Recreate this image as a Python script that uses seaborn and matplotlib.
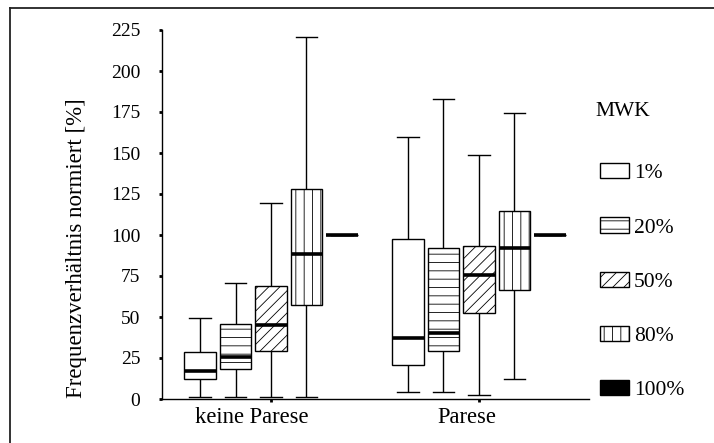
import numpy as np
import pandas as pd
from matplotlib import pyplot as plt
from matplotlib import transforms
from matplotlib.patches import Patch
from matplotlib.lines import Line2D
import seaborn as sns

# Gruppen und MWK-Stufen
gruppen = ['keine Parese', 'Parese']
mwk_stufen = ['1%', '20%', '50%', '80%', '100%']

# Fuenf-Punkte-Zusammenfassung je Box: Minimum, Q1, Median, Q3, Maximum
keine_parese = {
    '1%':   [1.5, 12.5, 17.0, 28.5, 49.5],
    '20%':  [1.0, 18.5, 25.5, 46.0, 70.5],
    '50%':  [1.5, 29.0, 45.0, 69.0, 119.5],
    '80%':  [1.0, 57.5, 88.5, 128.0, 221.0],
    '100%': [100.0, 100.0, 100.0, 100.0, 100.0],
}
parese = {
    '1%':   [4.0, 20.5, 37.5, 97.5, 160.0],
    '20%':  [4.0, 29.0, 40.0, 92.0, 183.0],
    '50%':  [2.5, 52.5, 75.5, 93.0, 149.0],
    '80%':  [12.0, 66.5, 92.0, 114.5, 174.5],
    '100%': [100.0, 100.0, 100.0, 100.0, 100.0],
}

schraffur = ['', '--', '///', '||', '']
fuellung = ['white', 'white', 'white', 'white', 'black']

# Tabelle fuer seaborn aufbauen
zeilen = []
for gruppe, werte in zip(gruppen, [keine_parese, parese]):
    for stufe in mwk_stufen:
        for v in werte[stufe]:
            zeilen.append({'Gruppe': gruppe, 'MWK': stufe, 'Wert': v})
df = pd.DataFrame(zeilen)

plt.rcParams['font.family'] = ['Liberation Serif', 'DejaVu Serif']
plt.rcParams['hatch.linewidth'] = 0.6
plt.rcParams['hatch.color'] = '#444444'

fig = plt.figure(figsize=(7.14, 4.43), dpi=100)
ax = fig.add_axes([162 / 714, 1 - 399 / 443, 427 / 714, 369 / 443])

sns.boxplot(
    data=df, x='Gruppe', y='Wert', hue='MWK',
    order=gruppen, hue_order=mwk_stufen,
    palette=['white'] * 5,
    whis=(0, 100),  # Whisker bis Minimum/Maximum
    width=0.853, gap=0.11,
    linecolor='black', linewidth=1.0,
    medianprops=dict(linewidth=2.6, color='black'),
    capwidths=0.105,
    legend=False, ax=ax,
)

# Schraffuren setzen (Reihenfolge: je Stufe beide Gruppen)
for i, patch in enumerate(ax.patches):
    k = i // 2
    patch.set_hatch(schraffur[k])
    patch.set_facecolor(fuellung[k])
    patch.set_edgecolor('black')

ax.set_xlim(-0.524, 1.529)
ax.set_ylim(0, 225)
ax.set_yticks(np.arange(0, 226, 25))
ax.set_xlabel('')
ax.set_ylabel('Frequenzverhältnis normiert [%]', fontsize=16.5)
ax.yaxis.set_label_coords(-0.176, 0.41)
ax.yaxis.label.set_verticalalignment('bottom')

ax.tick_params(axis='y', labelsize=14, length=2.5, width=2, pad=13)
ax.tick_params(axis='x', labelsize=16.3, length=2, width=2, pad=4)
sns.despine(ax=ax, top=True, right=True)
for s in ['left', 'bottom']:
    ax.spines[s].set_linewidth(1.0)

# x-Beschriftungen etwas nach links versetzt wie im Original
fig.canvas.draw()
for lbl, dx in zip(ax.get_xticklabels(), [-19, -12]):
    lbl.set_transform(lbl.get_transform() + transforms.ScaledTranslation(dx / 100, 0, fig.dpi_scale_trans))

# Legende
handles = [Patch(facecolor=fuellung[k], edgecolor='black', hatch=schraffur[k], linewidth=1.0)
           for k in range(len(mwk_stufen))]
fig.legend(
    handles, mwk_stufen,
    loc='upper left', bbox_to_anchor=(581 / 714, 1 - 144 / 443),
    frameon=False, fontsize=15.5,
    labelspacing=1.58, handlelength=1.35, handleheight=0.7, handletextpad=0.2,
)
fig.text(595 / 714, 1 - 112 / 443, 'MWK', fontsize=15.5, ha='left', va='center')

# Rahmen um die Abbildung (nur links und oben sichtbar)
fig.add_artist(Line2D([10 / 714, 10 / 714], [0, 1 - 8 / 443], color='#222222', linewidth=1.3,
                      transform=fig.transFigure))
fig.add_artist(Line2D([10 / 714, 1], [1 - 8 / 443, 1 - 8 / 443], color='#222222', linewidth=1.3,
                      transform=fig.transFigure))

plt.savefig('out.png', dpi=100)
plt.close()
